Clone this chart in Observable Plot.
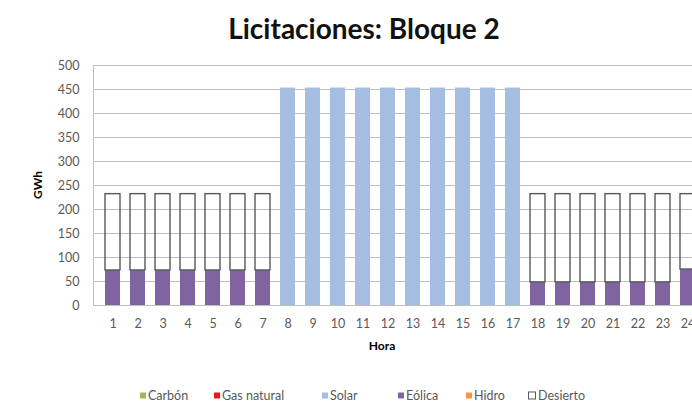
<!DOCTYPE html>
<html>
<head>
<meta charset="utf-8">
<script src="https://cdn.jsdelivr.net/npm/d3@7"></script>
<script src="https://cdn.jsdelivr.net/npm/@observablehq/plot@0.6"></script>
<style>
  html, body { margin: 0; padding: 0; background: #fff; }
  #wrap { position: relative; width: 692px; height: 414px; overflow: hidden; font-family: Lato, "Open Sans", sans-serif; }
  #chart { position: absolute; left: 0; top: 0; width: 715px; }
  #chart svg { max-width: none !important; }
  .lbl { position: absolute; white-space: nowrap; color: #000; }
  #title { left: 364px; top: 28px; transform: translate(-50%, -50%); font-size: 28px; font-weight: bold; color: #111; }
  #xlab { left: 382px; top: 345px; transform: translate(-50%, -50%); font-size: 12px; font-weight: bold; }
  #ylab { left: 37px; top: 185px; transform: translate(-50%, -50%) rotate(-90deg); font-size: 12px; font-weight: bold; }
  .leg { position: absolute; top: 395px; transform: translateY(-50%); font-size: 12.5px; color: #595959; display: flex; align-items: center; white-space: nowrap; }
  .sw { width: 6px; height: 6px; margin-right: 2px; display: inline-block; box-sizing: border-box; }
</style>
</head>
<body>
<div id="wrap">
  <div id="chart"></div>
  <div id="title" class="lbl">Licitaciones: Bloque 2</div>
  <div id="xlab" class="lbl">Hora</div>
  <div id="ylab" class="lbl">GWh</div>
  <div id="legend"></div>
</div>
<script>
const horas = [1,2,3,4,5,6,7,8,9,10,11,12,13,14,15,16,17,18,19,20,21,22,23,24];
const carbon    = [0,0,0,0,0,0,0,0,0,0,0,0,0,0,0,0,0,0,0,0,0,0,0,0];
const gasNatural= [0,0,0,0,0,0,0,0,0,0,0,0,0,0,0,0,0,0,0,0,0,0,0,0];
const solar     = [0,0,0,0,0,0,0,453,453,453,453,453,453,453,453,453,453,0,0,0,0,0,0,0];
const eolica    = [73,73,73,73,73,73,73,0,0,0,0,0,0,0,0,0,0,48,48,48,48,48,48,75];
const hidro     = [0,0,0,0,0,0,0,0,0,0,0,0,0,0,0,0,0,0,0,0,0,0,0,0];
const desierto  = [159,159,159,159,159,159,159,0,0,0,0,0,0,0,0,0,0,184,184,184,184,184,184,157];
const yTicks = [0,50,100,150,200,250,300,350,400,450,500];

const seriesNames = ["Carbón","Gas natural","Solar","Eólica","Hidro","Desierto"];
const seriesColors = ["#9bbb59","#e31a1c","#a5bde0","#8064a2","#f79646","none"];
const seriesValues = [carbon, gasNatural, solar, eolica, hidro, desierto];

const filled = [];
horas.forEach((h, i) => {
  seriesNames.slice(0, 5).forEach((s, k) => {
    filled.push({hora: h, serie: s, value: seriesValues[k][i]});
  });
});
const baseBelowDesierto = horas.map((h, i) => seriesValues.slice(0, 5).reduce((a, v) => a + v[i], 0));
const desiertoRows = horas.map((h, i) => ({hora: h, y1: baseBelowDesierto[i], y2: baseBelowDesierto[i] + desierto[i]})).filter(d => d.y2 > d.y1);

const chart = Plot.plot({
  width: 715,
  height: 414,
  marginTop: 65,
  marginBottom: 109,
  marginLeft: 93,
  marginRight: 8,
  style: {fontFamily: "Lato, 'Open Sans', sans-serif", fontSize: "12.5px", color: "#595959", background: "transparent", maxWidth: "none"},
  x: {type: "band", domain: horas, padding: 0.42, label: null},
  y: {domain: [0, 500], label: null},
  color: {domain: seriesNames.slice(0, 5), range: seriesColors.slice(0, 5)},
  marks: [
    Plot.gridY(yTicks, {stroke: "#bfbfbf", strokeOpacity: 1}),
    Plot.frame({stroke: "#bfbfbf"}),
    Plot.barY(filled, {x: "hora", y: "value", fill: "serie", order: seriesNames.slice(0, 5)}),
    Plot.barY(desiertoRows, {x: "hora", y1: "y1", y2: "y2", fill: "none", stroke: "#595959", strokeWidth: 1.4}),
    Plot.axisY(yTicks, {tickSize: 0, tickPadding: 14, label: null, fill: "#595959"}),
    Plot.axisX({tickSize: 0, tickPadding: 14, label: null, fill: "#595959"})
  ]
});
document.getElementById("chart").appendChild(chart);

const legendPos = [140, 214, 322, 398, 466, 528];
const leg = document.getElementById("legend");
seriesNames.forEach((s, k) => {
  const item = document.createElement("div");
  item.className = "leg";
  item.style.left = legendPos[k] + "px";
  const sw = document.createElement("span");
  sw.className = "sw";
  if (seriesColors[k] === "none") {
    sw.style.border = "1px solid #595959";
    sw.style.width = "8px"; sw.style.height = "8px";
  } else {
    sw.style.background = seriesColors[k];
  }
  item.appendChild(sw);
  item.appendChild(document.createTextNode(s));
  leg.appendChild(item);
});
</script>
</body>
</html>
